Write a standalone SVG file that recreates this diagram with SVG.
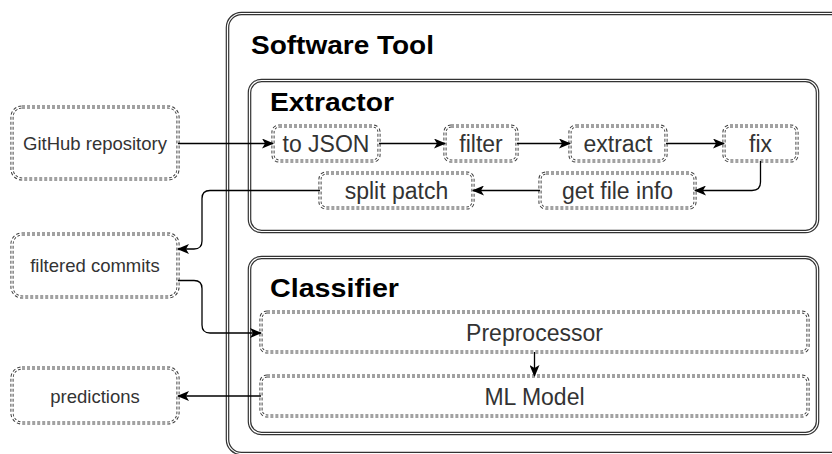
<svg xmlns="http://www.w3.org/2000/svg" width="832" height="454" viewBox="0 0 832 454">
  <defs>
    <marker id="arrow" viewBox="0 0 12 10" refX="11" refY="5" markerWidth="12" markerHeight="10" markerUnits="userSpaceOnUse" orient="auto">
      <path d="M0,0 L12,5 L0,10 L3,5 Z" fill="#000"/>
    </marker>
  </defs>
  <style>
    .frame-out { fill: #fff; stroke: #333; stroke-width: 3.6; }
    .frame-in { fill: none; stroke: #fff; stroke-width: 1.2; }
    .dash-out { fill: #fff; stroke: #444; stroke-width: 3.2; stroke-dasharray: 3 2; }
    .dash-in { fill: none; stroke: #fff; stroke-width: 1.2; }
    .title { font-family: "Liberation Sans", Arial, sans-serif; font-weight: bold; fill: #000; }
    .label { font-family: "Liberation Sans", Arial, sans-serif; font-size: 23px; fill: #333; text-anchor: middle; }
    .ext { font-family: "Liberation Sans", Arial, sans-serif; font-size: 18.5px; fill: #333; text-anchor: middle; }
    .edge { fill: none; stroke: #000; stroke-width: 1.3; }
  </style>
  <rect width="832" height="454" fill="#fff"/>

  <!-- containers -->
  <g id="software-tool">
    <rect class="frame-out" x="227.5" y="13.5" width="630" height="440" rx="14"/>
    <rect class="frame-in" x="227.5" y="13.5" width="630" height="440" rx="14"/>
    <text class="title" x="251" y="54" font-size="25" textLength="183" lengthAdjust="spacingAndGlyphs">Software Tool</text>
  </g>
  <g id="extractor">
    <rect class="frame-out" x="249.5" y="80.5" width="568" height="151" rx="12"/>
    <rect class="frame-in" x="249.5" y="80.5" width="568" height="151" rx="12"/>
    <text class="title" x="270" y="111" font-size="25" textLength="124" lengthAdjust="spacingAndGlyphs">Extractor</text>
  </g>
  <g id="classifier">
    <rect class="frame-out" x="249.5" y="257.5" width="568" height="176" rx="12"/>
    <rect class="frame-in" x="249.5" y="257.5" width="568" height="176" rx="12"/>
    <text class="title" x="270" y="297" font-size="25" textLength="129" lengthAdjust="spacingAndGlyphs">Classifier</text>
  </g>

  <!-- external data -->
  <g id="github-repository">
    <rect class="dash-out" x="12" y="107" width="166" height="72" rx="10"/>
    <rect class="dash-in" x="12" y="107" width="166" height="72" rx="10"/>
    <text class="ext" x="95" y="150">GitHub repository</text>
  </g>
  <g id="filtered-commits">
    <rect class="dash-out" x="12" y="234" width="166" height="63" rx="10"/>
    <rect class="dash-in" x="12" y="234" width="166" height="63" rx="10"/>
    <text class="ext" x="95" y="272">filtered commits</text>
  </g>
  <g id="predictions">
    <rect class="dash-out" x="12" y="368" width="166" height="55" rx="10"/>
    <rect class="dash-in" x="12" y="368" width="166" height="55" rx="10"/>
    <text class="ext" x="95" y="402.5">predictions</text>
  </g>

  <!-- extractor steps -->
  <g id="to-json">
    <rect class="dash-out" x="273" y="126" width="106" height="35" rx="6"/>
    <rect class="dash-in" x="273" y="126" width="106" height="35" rx="6"/>
    <text class="label" x="326" y="152">to JSON</text>
  </g>
  <g id="filter">
    <rect class="dash-out" x="445" y="126" width="72" height="35" rx="6"/>
    <rect class="dash-in" x="445" y="126" width="72" height="35" rx="6"/>
    <text class="label" x="481" y="152">filter</text>
  </g>
  <g id="extract">
    <rect class="dash-out" x="570" y="126" width="96" height="35" rx="6"/>
    <rect class="dash-in" x="570" y="126" width="96" height="35" rx="6"/>
    <text class="label" x="618" y="152">extract</text>
  </g>
  <g id="fix">
    <rect class="dash-out" x="724" y="126" width="73" height="35" rx="6"/>
    <rect class="dash-in" x="724" y="126" width="73" height="35" rx="6"/>
    <text class="label" x="760.5" y="152">fix</text>
  </g>
  <g id="split-patch">
    <rect class="dash-out" x="320" y="173" width="153" height="35" rx="6"/>
    <rect class="dash-in" x="320" y="173" width="153" height="35" rx="6"/>
    <text class="label" x="396.5" y="199">split patch</text>
  </g>
  <g id="get-file-info">
    <rect class="dash-out" x="540" y="173" width="155" height="35" rx="6"/>
    <rect class="dash-in" x="540" y="173" width="155" height="35" rx="6"/>
    <text class="label" x="617.5" y="199">get file info</text>
  </g>

  <!-- classifier stages -->
  <g id="preprocessor">
    <rect class="dash-out" x="261" y="312" width="547" height="40" rx="6"/>
    <rect class="dash-in" x="261" y="312" width="547" height="40" rx="6"/>
    <text class="label" x="534.5" y="341">Preprocessor</text>
  </g>
  <g id="ml-model">
    <rect class="dash-out" x="261" y="376" width="547" height="40" rx="6"/>
    <rect class="dash-in" x="261" y="376" width="547" height="40" rx="6"/>
    <text class="label" x="534.5" y="405">ML Model</text>
  </g>

  <!-- connectors -->
  <g id="connectors">
    <path class="edge" d="M178,143.5 L273,143.5" marker-end="url(#arrow)"/>
    <path class="edge" d="M379,143.5 L445,143.5" marker-end="url(#arrow)"/>
    <path class="edge" d="M517,143.5 L570,143.5" marker-end="url(#arrow)"/>
    <path class="edge" d="M666,143.5 L724,143.5" marker-end="url(#arrow)"/>
    <path class="edge" d="M760.5,161 L760.5,182 Q760.5,190.5 752,190.5 L695,190.5" marker-end="url(#arrow)"/>
    <path class="edge" d="M540,190.5 L473,190.5" marker-end="url(#arrow)"/>
    <path class="edge" d="M320,190.5 L210,190.5 Q202,190.5 202,198.5 L202,241 Q202,249 194,249 L178,249" marker-end="url(#arrow)"/>
    <path class="edge" d="M178,280.5 L194,280.5 Q202,280.5 202,288.5 L202,325 Q202,333 210,333 L261,333" marker-end="url(#arrow)"/>
    <path class="edge" d="M534.5,352 L534.5,376" marker-end="url(#arrow)"/>
    <path class="edge" d="M261,396 L178,396" marker-end="url(#arrow)"/>
  </g>
</svg>
